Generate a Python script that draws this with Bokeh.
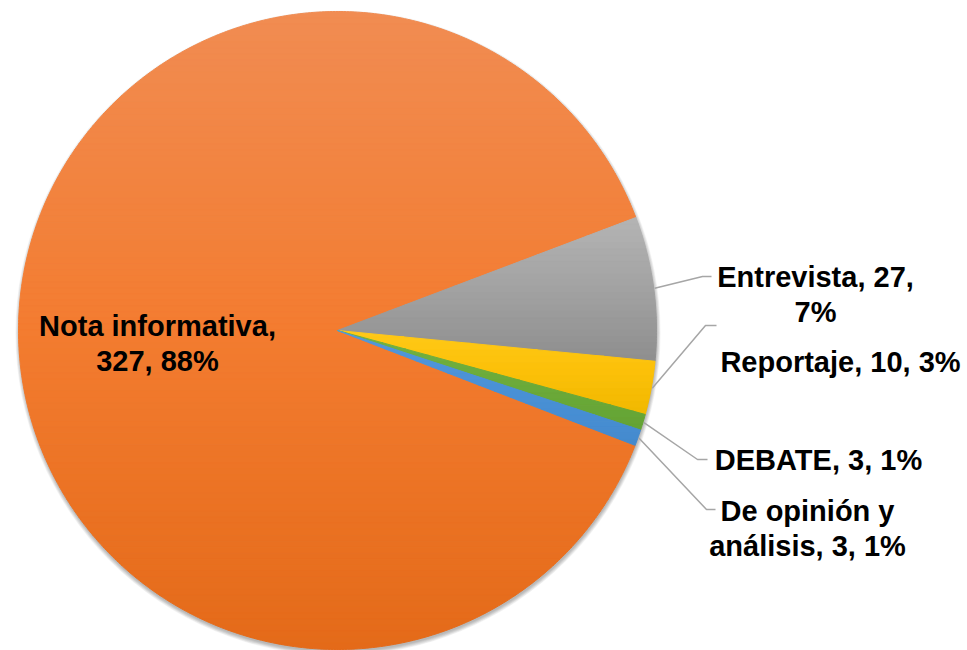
import numpy as np
from bokeh.plotting import figure
from bokeh.models import Range1d
from bokeh.core.properties import value
from bokeh.embed import file_html
from bokeh.resources import INLINE

# ---------------- data ----------------
categories = ["Nota informativa", "Entrevista", "Reportaje", "DEBATE", "De opinión y análisis"]
counts = [327, 27, 10, 3, 3]

# ---------------- style / layout ----------------
W, H = 967, 650
def sx(x):
    return x
def sy(y):
    return H - y

CX, CY, R = sx(337), sy(330), 319
START_DEG = -21.1  # first slice starts here, slices run clockwise

# gradient stops (top, middle, bottom) per slice
stops = [
    [(241, 140, 82), (243, 124, 48), (228, 106, 25)],
    [(180, 180, 180), (162, 162, 162), (142, 142, 142)],
    [(255, 201, 24), (252, 192, 8), (240, 184, 0)],
    [(114, 178, 66), (108, 171, 58), (100, 163, 52)],
    [(82, 152, 220), (74, 145, 214), (68, 138, 206)],
]
first_line_words = [2, 2, 99, 99, 3]
label_pos = [(157, 325), (815, 276), (840, 361), (818, 459), (807, 510)]
leader_bend = [None, (702, 276), (705, 325), (697, 459), (706, 509)]
leader_end = [None, (711, 276), (716, 325), (707, 459), (715, 509)]
LINE_GAP = 35
FONT = "Liberation Sans"
FONT_SIZE = "29px"


def lerp(c0, c1, t):
    return tuple(int(round(c0[i] + (c1[i] - c0[i]) * t)) for i in range(3))


def grad(st, t):
    if t < 0.5:
        c = lerp(st[0], st[1], t / 0.5)
    else:
        c = lerp(st[1], st[2], (t - 0.5) / 0.5)
    return "#%02x%02x%02x" % c


def clip_half(pts, yc, above):
    out = []
    n = len(pts)
    for i in range(n):
        P = pts[i]
        Q = pts[(i + 1) % n]
        inP = P[1] >= yc if above else P[1] <= yc
        inQ = Q[1] >= yc if above else Q[1] <= yc
        if inP:
            out.append(P)
        if inP != inQ:
            t = (yc - P[1]) / (Q[1] - P[1])
            out.append((P[0] + t * (Q[0] - P[0]), yc))
    return out


p = figure(width=W, height=H, output_backend="svg", toolbar_location=None,
           x_range=Range1d(0, W), y_range=Range1d(0, H),
           x_axis_location=None, y_axis_location=None, min_border=0,
           outline_line_color=None, background_fill_color="white",
           border_fill_color="white")
p.grid.visible = False

# soft shadow under the pie
for k in range(7):
    p.circle(x=[CX + 0.5], y=[CY - 2.5], radius=R + 0.6 * k,
             fill_color="black", fill_alpha=0.045, line_color=None)

total = sum(counts)
a = START_DEG
mids = []
xs_all, ys_all, cols_all = [], [], []
for i, c in enumerate(counts):
    span = c / total * 360.0
    a0, a1 = a, a - span
    a = a1
    mids.append((a0 + a1) / 2)
    n = max(8, int(span * 2))
    angs = np.radians(np.linspace(a0, a1, n))
    poly = [(CX, CY)] + [(CX + R * np.cos(t), CY + R * np.sin(t)) for t in angs]
    ymin = min(q[1] for q in poly)
    ymax = max(q[1] for q in poly)
    nb = max(4, int((ymax - ymin) / 6))
    edges = np.linspace(ymax, ymin, nb + 1)
    for b in range(nb):
        hi, lo = edges[b], edges[b + 1]
        part = clip_half(poly, lo, True)
        if len(part) < 3:
            continue
        part = clip_half(part, hi, False)
        if len(part) < 3:
            continue
        tt = (b + 0.5) / nb
        xs_all.append([q[0] for q in part])
        ys_all.append([q[1] for q in part])
        cols_all.append(grad(stops[i], tt))

p.patches(xs=xs_all, ys=ys_all, fill_color=cols_all, line_color=cols_all, line_width=1)

# leader lines
lx, ly = [], []
for i, m in enumerate(mids):
    if leader_bend[i] is None:
        continue
    t = np.radians(m)
    x0 = CX + (R + 1) * np.cos(t)
    y0 = CY + (R + 1) * np.sin(t)
    bx, by = leader_bend[i]
    ex, ey = leader_end[i]
    lx.append([x0, sx(bx), sx(ex)])
    ly.append([y0, sy(by), sy(ey)])
p.multi_line(xs=lx, ys=ly, line_color="#A6A6A6", line_width=1.5)

# labels
tx, ty, tt_ = [], [], []
for i, cat in enumerate(categories):
    pct = round(counts[i] / total * 100)
    words = f"{cat}, {counts[i]}, {pct}%".split(" ")
    k = first_line_words[i]
    lines = [" ".join(words[:k])]
    if k < len(words):
        lines.append(" ".join(words[k:]))
    px, py = label_pos[i]
    for j, ln in enumerate(lines):
        tx.append(sx(px))
        ty.append(sy(py + j * LINE_GAP))
        tt_.append(ln)
p.text(x=tx, y=ty, text=tt_, text_font=value(FONT), text_font_style="bold",
       text_font_size=value(FONT_SIZE), text_color="black",
       text_align="center", text_baseline="alphabetic")

open("out.html", "w").write(file_html(p, INLINE))
